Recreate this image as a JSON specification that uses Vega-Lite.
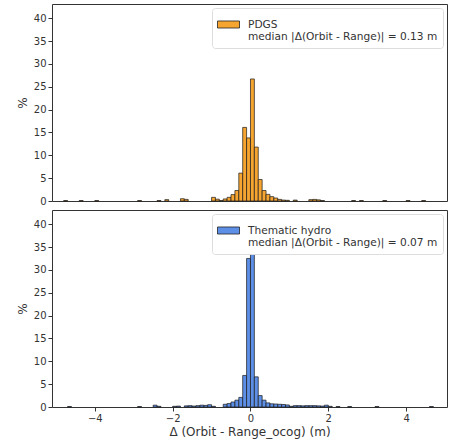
{
  "$schema": "https://vega.github.io/schema/vega-lite/v6.json",
  "padding": {"left": 15, "top": 3, "right": 12, "bottom": 2},
  "bounds": "flush",
  "config": {
    "font": "DejaVu Sans",
    "view": {"stroke": "#333333", "strokeWidth": 1},
    "concat": {"spacing": 9},
    "axis": {
      "grid": false,
      "domain": false,
      "tickColor": "#333333",
      "tickSize": 4,
      "labelColor": "#333333",
      "labelFont": "DejaVu Sans",
      "labelFontSize": 10,
      "labelPadding": 2,
      "titleColor": "#333333",
      "titleFont": "DejaVu Sans",
      "titleFontWeight": "normal",
      "titleFontSize": 12
    },
    "legend": {
      "orient": "top-right",
      "offset": 4,
      "padding": 5,
      "cornerRadius": 3,
      "strokeColor": "#dddddd",
      "fillColor": "white",
      "symbolType": "M-1,-0.32H1V0.32H-1Z",
      "symbolSize": 484,
      "symbolStrokeColor": "#222222",
      "symbolStrokeWidth": 0.8,
      "symbolOpacity": 1,
      "labelFont": "DejaVu Sans",
      "labelFontSize": 10.6,
      "labelColor": "#333333",
      "labelOffset": 8,
      "labelLimit": 0
    }
  },
  "datasets": {
    "pdgs": [
      {"x0": -4.8, "x1": -4.7, "pct": 0.1},
      {"x0": -4.4, "x1": -4.3, "pct": 0.1},
      {"x0": -4.0, "x1": -3.9, "pct": 0.1},
      {"x0": -2.9, "x1": -2.8, "pct": 0.1},
      {"x0": -2.4, "x1": -2.3, "pct": 0.1},
      {"x0": -2.2, "x1": -2.1, "pct": 0.3},
      {"x0": -1.8, "x1": -1.7, "pct": 0.5},
      {"x0": -1.7, "x1": -1.6, "pct": 0.35},
      {"x0": -1.0, "x1": -0.9, "pct": 0.8},
      {"x0": -0.9, "x1": -0.8, "pct": 0.4},
      {"x0": -0.8, "x1": -0.7, "pct": 0.1},
      {"x0": -0.7, "x1": -0.6, "pct": 0.45},
      {"x0": -0.6, "x1": -0.5, "pct": 0.8},
      {"x0": -0.5, "x1": -0.4, "pct": 1.4},
      {"x0": -0.4, "x1": -0.3, "pct": 2.3},
      {"x0": -0.3, "x1": -0.2, "pct": 6.1},
      {"x0": -0.2, "x1": -0.1, "pct": 16.1},
      {"x0": -0.1, "x1": 0.0, "pct": 13.8},
      {"x0": 0.0, "x1": 0.1, "pct": 26.7},
      {"x0": 0.1, "x1": 0.2, "pct": 11.8},
      {"x0": 0.2, "x1": 0.3, "pct": 4.7},
      {"x0": 0.3, "x1": 0.4, "pct": 2.3},
      {"x0": 0.4, "x1": 0.5, "pct": 1.45},
      {"x0": 0.5, "x1": 0.6, "pct": 0.95},
      {"x0": 0.6, "x1": 0.7, "pct": 0.65},
      {"x0": 0.7, "x1": 0.8, "pct": 0.35},
      {"x0": 0.8, "x1": 0.9, "pct": 0.2},
      {"x0": 0.9, "x1": 1.0, "pct": 0.15},
      {"x0": 1.1, "x1": 1.2, "pct": 0.2},
      {"x0": 1.5, "x1": 1.6, "pct": 0.3},
      {"x0": 1.6, "x1": 1.7, "pct": 0.35},
      {"x0": 1.7, "x1": 1.8, "pct": 0.25},
      {"x0": 1.8, "x1": 1.9, "pct": 0.1},
      {"x0": 2.6, "x1": 2.7, "pct": 0.1},
      {"x0": 2.8, "x1": 2.9, "pct": 0.1},
      {"x0": 3.4, "x1": 3.5, "pct": 0.1},
      {"x0": 4.0, "x1": 4.1, "pct": 0.1},
      {"x0": 4.4, "x1": 4.5, "pct": 0.1}
    ],
    "hydro": [
      {"x0": -4.7, "x1": -4.6, "pct": 0.1},
      {"x0": -2.9, "x1": -2.8, "pct": 0.1},
      {"x0": -2.5, "x1": -2.4, "pct": 0.4},
      {"x0": -2.4, "x1": -2.3, "pct": 0.15},
      {"x0": -2.0, "x1": -1.9, "pct": 0.15},
      {"x0": -1.9, "x1": -1.8, "pct": 0.2},
      {"x0": -1.7, "x1": -1.6, "pct": 0.25},
      {"x0": -1.6, "x1": -1.5, "pct": 0.3},
      {"x0": -1.5, "x1": -1.4, "pct": 0.2},
      {"x0": -1.4, "x1": -1.3, "pct": 0.3},
      {"x0": -1.3, "x1": -1.2, "pct": 0.4},
      {"x0": -1.2, "x1": -1.1, "pct": 0.35},
      {"x0": -1.1, "x1": -1.0, "pct": 0.5},
      {"x0": -1.0, "x1": -0.9, "pct": 0.15},
      {"x0": -0.7, "x1": -0.6, "pct": 0.6},
      {"x0": -0.6, "x1": -0.5, "pct": 0.75},
      {"x0": -0.5, "x1": -0.4, "pct": 1.1},
      {"x0": -0.4, "x1": -0.3, "pct": 1.5},
      {"x0": -0.3, "x1": -0.2, "pct": 2.1},
      {"x0": -0.2, "x1": -0.1, "pct": 6.9},
      {"x0": -0.1, "x1": 0.0, "pct": 32.5},
      {"x0": 0.0, "x1": 0.1, "pct": 33.4},
      {"x0": 0.1, "x1": 0.2, "pct": 6.6},
      {"x0": 0.2, "x1": 0.3, "pct": 2.5},
      {"x0": 0.3, "x1": 0.4, "pct": 1.5},
      {"x0": 0.4, "x1": 0.5, "pct": 0.9},
      {"x0": 0.5, "x1": 0.6, "pct": 0.7},
      {"x0": 0.6, "x1": 0.7, "pct": 0.65},
      {"x0": 0.7, "x1": 0.8, "pct": 0.6},
      {"x0": 0.8, "x1": 0.9, "pct": 0.55},
      {"x0": 0.9, "x1": 1.0, "pct": 0.45},
      {"x0": 1.0, "x1": 1.1, "pct": 0.15},
      {"x0": 1.1, "x1": 1.2, "pct": 0.3},
      {"x0": 1.2, "x1": 1.3, "pct": 0.3},
      {"x0": 1.3, "x1": 1.4, "pct": 0.25},
      {"x0": 1.4, "x1": 1.5, "pct": 0.3},
      {"x0": 1.5, "x1": 1.6, "pct": 0.3},
      {"x0": 1.6, "x1": 1.7, "pct": 0.3},
      {"x0": 1.7, "x1": 1.8, "pct": 0.25},
      {"x0": 1.8, "x1": 1.9, "pct": 0.2},
      {"x0": 1.9, "x1": 2.0, "pct": 0.4},
      {"x0": 2.0, "x1": 2.1, "pct": 0.15},
      {"x0": 2.2, "x1": 2.3, "pct": 0.1},
      {"x0": 2.5, "x1": 2.6, "pct": 0.1},
      {"x0": 3.2, "x1": 3.3, "pct": 0.1},
      {"x0": 4.6, "x1": 4.7, "pct": 0.1}
    ]
  },
  "vconcat": [
    {
      "width": 395,
      "height": 197,
      "data": {"name": "pdgs"},
      "mark": {"type": "rect", "stroke": "#1a1a1a", "strokeWidth": 0.7},
      "encoding": {
        "x": {
          "field": "x0",
          "type": "quantitative",
          "scale": {"domain": [-5.1, 5.05], "nice": false, "zero": false},
          "axis": null
        },
        "x2": {"field": "x1"},
        "y": {
          "field": "pct",
          "type": "quantitative",
          "scale": {"domain": [0, 43.1], "nice": false},
          "axis": {"values": [0, 5, 10, 15, 20, 25, 30, 35, 40], "title": "%", "titlePadding": 4}
        },
        "y2": {"datum": 0},
        "color": {
          "datum": "PDGS",
          "scale": {"range": ["#F6A530"]},
          "legend": {
            "title": null,
            "labelExpr": "['PDGS', 'median |Δ(Orbit - Range)| = 0.13 m']"
          }
        }
      }
    },
    {
      "width": 395,
      "height": 197,
      "data": {"name": "hydro"},
      "mark": {"type": "rect", "stroke": "#1a1a1a", "strokeWidth": 0.7},
      "encoding": {
        "x": {
          "field": "x0",
          "type": "quantitative",
          "scale": {"domain": [-5.1, 5.05], "nice": false, "zero": false},
          "axis": {
            "values": [-4, -2, 0, 2, 4],
            "labelExpr": "replace(datum.label, '-', '−')",
            "labelPadding": 2,
            "title": "Δ (Orbit - Range_ocog) (m)",
            "titlePadding": 3
          }
        },
        "x2": {"field": "x1"},
        "y": {
          "field": "pct",
          "type": "quantitative",
          "scale": {"domain": [0, 43.1], "nice": false},
          "axis": {"values": [0, 5, 10, 15, 20, 25, 30, 35, 40], "title": "%", "titlePadding": 4}
        },
        "y2": {"datum": 0},
        "color": {
          "datum": "Thematic hydro",
          "scale": {"range": ["#5D8FE6"]},
          "legend": {
            "title": null,
            "labelExpr": "['Thematic hydro', 'median |Δ(Orbit - Range)| = 0.07 m']"
          }
        }
      }
    }
  ],
  "resolve": {"scale": {"color": "independent"}, "legend": {"color": "independent"}}
}
